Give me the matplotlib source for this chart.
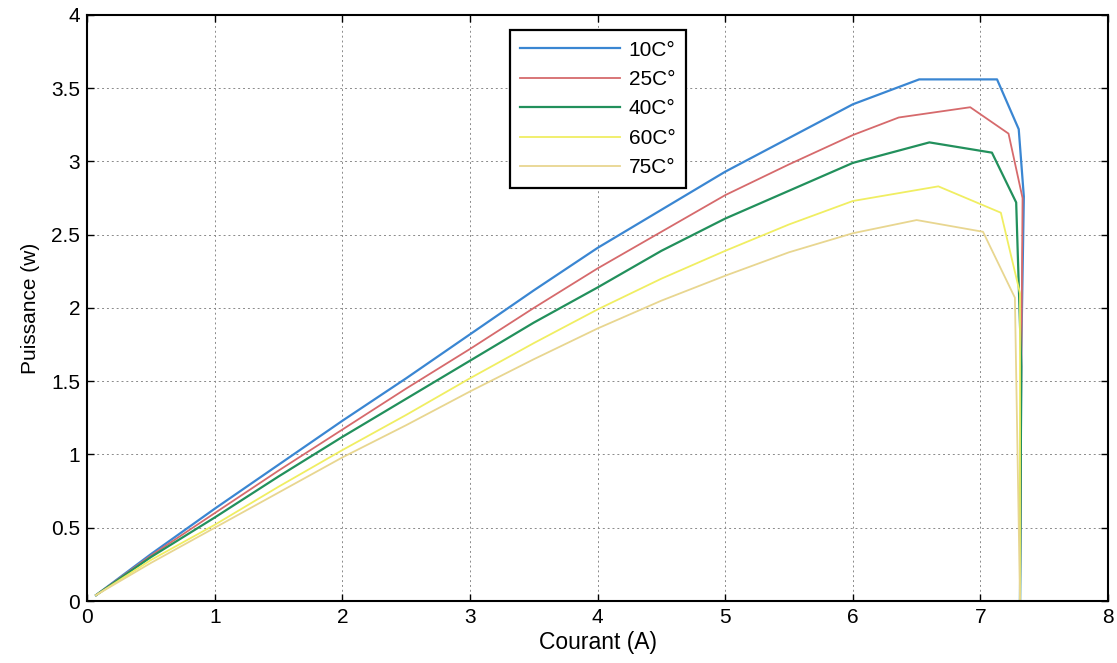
import matplotlib
matplotlib.use("Agg")
import matplotlib.pyplot as plt

plt.rcParams['font.family'] = ['Liberation Sans', 'DejaVu Sans']

labels = ["10C°", "25C°", "40C°", "60C°", "75C°"]
colors = ["#3a86d2", "#d66a6c", "#22905c", "#f0ee62", "#e8d690"]

# current (A) and power (W)
i_10 = [0.07, 0.5, 1.0, 1.5, 2.0, 2.5, 3.0, 3.5, 4.0, 4.5, 5.0, 5.5, 6.0, 6.52, 7.13, 7.30, 7.34, 7.32, 7.31]
p_10 = [0.04, 0.32, 0.63, 0.93, 1.23, 1.52, 1.82, 2.12, 2.41, 2.67, 2.93, 3.16, 3.39, 3.56, 3.56, 3.22, 2.76, 1.70, 0.0]

i_25 = [0.07, 0.5, 1.0, 1.5, 2.0, 2.5, 3.0, 3.5, 4.0, 4.5, 5.0, 5.5, 6.0, 6.36, 6.92, 7.22, 7.33, 7.32, 7.31]
p_25 = [0.04, 0.31, 0.60, 0.89, 1.17, 1.45, 1.72, 2.00, 2.27, 2.52, 2.77, 2.98, 3.18, 3.30, 3.37, 3.19, 2.75, 1.60, 0.0]

i_40 = [0.07, 0.5, 1.0, 1.5, 2.0, 2.5, 3.0, 3.5, 4.0, 4.5, 5.0, 5.5, 6.0, 6.60, 7.09, 7.28, 7.32, 7.31]
p_40 = [0.04, 0.30, 0.57, 0.85, 1.12, 1.38, 1.64, 1.90, 2.14, 2.39, 2.61, 2.80, 2.99, 3.13, 3.06, 2.72, 1.60, 0.0]

i_60 = [0.07, 0.5, 1.0, 1.5, 2.0, 2.5, 3.0, 3.5, 4.0, 4.5, 5.0, 5.5, 6.0, 6.67, 7.16, 7.31, 7.31]
p_60 = [0.04, 0.28, 0.52, 0.78, 1.03, 1.27, 1.52, 1.76, 1.99, 2.20, 2.39, 2.57, 2.73, 2.83, 2.65, 2.10, 0.0]

i_75 = [0.07, 0.5, 1.0, 1.5, 2.0, 2.5, 3.0, 3.5, 4.0, 4.5, 5.0, 5.5, 6.0, 6.50, 7.02, 7.27, 7.31]
p_75 = [0.04, 0.26, 0.50, 0.74, 0.98, 1.20, 1.43, 1.65, 1.86, 2.05, 2.22, 2.38, 2.51, 2.60, 2.52, 2.07, 0.0]

x_ticks = [0, 1, 2, 3, 4, 5, 6, 7, 8]
y_ticks = [0, 0.5, 1, 1.5, 2, 2.5, 3, 3.5, 4]
y_tick_labels = ["0", "0.5", "1", "1.5", "2", "2.5", "3", "3.5", "4"]

series = [(i_10, p_10), (i_25, p_25), (i_40, p_40), (i_60, p_60), (i_75, p_75)]

fig = plt.figure(figsize=(11.17, 6.63), dpi=100)
ax = fig.add_axes([0.078, 0.0935, 0.914, 0.884])

for (xs, ys), lab, col in zip(series, labels, colors):
    ax.plot(xs, ys, color=col, lw=1.6 if col in ("#3a86d2", "#22905c") else 1.3, label=lab)

ax.set_xlim(0, 8)
ax.set_ylim(0, 4)
ax.set_xticks(x_ticks)
ax.set_yticks(y_ticks)
ax.set_yticklabels(y_tick_labels)
ax.tick_params(direction='in', length=5, width=1.0, top=True, right=True,
               labelsize=15, pad=5, colors='black')
ax.grid(True, linestyle=(0, (2, 3)), color='#8a8a8a', lw=0.7)
for s in ax.spines.values():
    s.set_linewidth(1.5)
    s.set_color('black')

ax.set_xlabel("Courant (A)", fontsize=16.5, labelpad=3)
ax.set_ylabel("Puissance (w)", fontsize=15, labelpad=8)

leg = ax.legend(loc='upper left', bbox_to_anchor=(0.414, 0.974), borderaxespad=0,
                fontsize=15, handlelength=4.8, handletextpad=0.4, labelspacing=0.5,
                borderpad=0.5, fancybox=False, framealpha=1, edgecolor='black')
leg.get_frame().set_linewidth(1.6)

fig.savefig("out.png", dpi=100)
